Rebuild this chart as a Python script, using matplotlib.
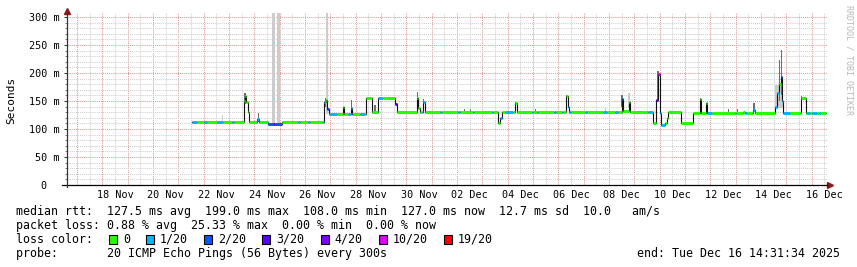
import numpy as np
import matplotlib
matplotlib.use("Agg")
import matplotlib.pyplot as plt
from matplotlib.patches import Rectangle

# x axis: days since 2025-11-16 00:00, graph spans 16 Nov 14:31 .. 16 Dec 14:31
t_start = 0.605
t_end = 30.605
data_end = 30.57

# median rtt (ms), step values starting at each time
med_t = [5.54, 7.59, 7.63, 7.68, 7.74, 7.80, 8.11, 8.17, 8.53, 9.08,
         10.75, 10.81, 10.87, 10.93, 11.50, 11.54, 11.82, 11.86, 12.41, 12.65,
         12.88, 13.55, 13.63, 14.41, 14.47, 14.53, 14.66, 14.72, 17.62, 17.70,
         17.78, 18.29, 18.35, 20.31, 20.37, 20.43, 22.50, 22.56, 22.77, 22.83,
         23.73, 23.86, 23.92, 24.00, 24.04, 24.21, 24.29, 24.33, 24.85, 25.31,
         25.60, 25.64, 25.83, 25.87, 27.29, 27.37, 27.69, 27.77, 28.56, 28.64,
         28.72, 28.79, 28.83, 28.87, 29.57, 29.78]
med_v = [112, 150, 158, 148, 131, 113, 118, 113, 108, 112,
         148, 152, 135, 127, 140, 127, 138, 127, 156, 130,
         156, 145, 131, 155, 138, 131, 148, 131, 110, 120,
         131, 146, 131, 158, 140, 131, 153, 132, 149, 131,
         110, 152, 199, 128, 107, 110, 120, 131, 110, 128,
         153, 128, 146, 128, 131, 128, 133, 128, 140, 165,
         180, 193, 150, 128, 155, 128]

# lost pings (of 20), step values starting at each time
loss_t = [5.54, 5.74, 6.01, 6.13, 6.53, 6.76, 7.12, 7.18, 8.11, 8.17,
          8.54, 8.74, 8.82, 9.09, 9.72, 9.80, 10.12, 10.18, 10.71, 10.77,
          10.87, 10.93, 10.99, 11.27, 11.70, 11.90, 12.17, 12.37, 12.88, 13.08,
          13.55, 13.63, 14.62, 14.74, 15.33, 15.41, 16.04, 16.10, 16.63, 16.69,
          17.38, 17.44, 17.70, 17.78, 17.90, 18.21, 18.96, 19.00, 19.16, 19.20,
          19.83, 19.89, 20.15, 20.19, 20.37, 20.50, 21.05, 21.13, 21.77, 21.92,
          22.24, 22.36, 22.50, 22.56, 23.54, 23.74, 23.86, 23.92, 24.00, 24.21,
          25.87, 26.07, 26.98, 27.02, 27.37, 27.45, 27.69, 27.77, 28.56, 28.72,
          28.79, 28.83, 29.15, 29.82, 29.94, 30.02, 30.21, 30.29, 30.37]
loss_v = [1, 0, 1, 0, 1, 0, 1, 0, 1, 0,
          2, 3, 2, 0, 1, 0, 1, 0, 1, 0,
          2, 0, 1, 0, 1, 0, 1, 0, 1, 0,
          3, 0, 1, 0, 1, 0, 1, 0, 1, 0,
          1, 0, 1, 0, 1, 0, 1, 0, 1, 0,
          1, 0, 1, 0, 1, 0, 1, 0, 1, 0,
          1, 0, 2, 0, 1, 0, 3, 10, 1, 0,
          1, 0, 1, 0, 1, 0, 1, 0, 1, 0,
          2, 1, 0, 1, 0, 1, 0, 1, 0]

# smoke (spread of the 20 pings), dark and light
smoke_t0 = [7.61, 8.13, 10.77, 11.80, 12.73, 14.41, 14.66, 16.27, 16.51, 18.29,
            19.08, 20.31, 22.49, 23.90, 25.60, 25.83, 26.68, 27.05, 27.68, 28.70,
            28.77, 29.58]
smoke_t1 = [7.67, 8.19, 10.83, 11.86, 12.79, 14.47, 14.71, 16.32, 16.56, 18.34,
            19.13, 20.36, 22.55, 23.96, 25.65, 25.88, 26.73, 27.10, 27.76, 28.76,
            28.82, 29.63]
smoke_lo = [145, 113, 140, 130, 130, 150, 135, 131, 131, 135,
            131, 145, 140, 150, 140, 135, 128, 128, 130, 150,
            160, 150]
smoke_hi = [165, 128, 155, 152, 143, 166, 153, 136, 136, 149,
            136, 161, 161, 203, 155, 146, 136, 136, 146, 223,
            241, 158]

haze_t0 = [6.72, 8.70, 8.90, 10.83, 21.83, 22.76, 28.56]
haze_t1 = [6.77, 8.82, 9.01, 10.90, 21.88, 22.82, 28.87]
haze_lo = [112, 108, 108, 127, 131, 140, 137]
haze_hi = [125, 310, 310, 310, 138, 164, 178]

loss_steps = [0, 1, 2, 3, 4, 10, 19]
loss_labels = ["0", "1/20", "2/20", "3/20", "4/20", "10/20", "19/20"]
loss_colors = ["#26ff00", "#00b8ff", "#0059ff", "#5e00ff", "#7e00ff", "#dd00ff", "#ff0000"]

tick_days = [2.5, 4.5, 6.5, 8.5, 10.5, 12.5, 14.5, 16.5, 18.5, 20.5, 22.5, 24.5, 26.5, 28.5, 30.5]
tick_labels = ["18 Nov", "20 Nov", "22 Nov", "24 Nov", "26 Nov", "28 Nov", "30 Nov",
               "02 Dec", "04 Dec", "06 Dec", "08 Dec", "10 Dec", "12 Dec", "14 Dec", "16 Dec"]
y_ticks = [0, 50, 100, 150, 200, 250, 300]
y_labels = ["0  ", "50 m", "100 m", "150 m", "200 m", "250 m", "300 m"]

MONO = "DejaVu Sans Mono"
W, H = 857, 267

fig = plt.figure(figsize=(W / 100, H / 100), dpi=100)
fig.patch.set_facecolor("white")
ax = fig.add_axes([67 / W, 1 - 185 / H, 760 / W, 172 / H])
ax.set_xlim(t_start, t_end)
ax.set_ylim(0, 307)
for s in ax.spines.values():
    s.set_visible(False)

# grid
dots = (0, (1, 1))
for d in np.arange(1, 31, 0.5):
    major = float(d).is_integer()
    ax.axvline(d, color="#e59a9a" if major else "#cfcfcf", lw=0.75, ls=dots, zorder=0)
for v in range(10, 301, 10):
    ax.axhline(v, color="#e59a9a" if v % 50 == 0 else "#cfcfcf", lw=0.75, ls=dots, zorder=0)

# smoke
ax.bar(haze_t0, np.subtract(haze_hi, haze_lo), width=np.subtract(haze_t1, haze_t0),
       bottom=haze_lo, align="edge", color="#cccccc", lw=0, zorder=1)
ax.bar(smoke_t0, np.subtract(smoke_hi, smoke_lo), width=np.subtract(smoke_t1, smoke_t0),
       bottom=smoke_lo, align="edge", color="#6e6e6e", lw=0, zorder=1.5)

# median line, black steps then loss-coloured flats
ax.step(med_t + [data_end], med_v + [med_v[-1]], where="post", color="#111111", lw=0.8, zorder=2)


def loss_color(n):
    idx = np.searchsorted(loss_steps, n, side="right") - 1
    return loss_colors[idx]


edges = sorted(set(med_t) | set(loss_t) | {data_end})
for a, b in zip(edges[:-1], edges[1:]):
    v = med_v[np.searchsorted(med_t, a, side="right") - 1]
    n = loss_v[np.searchsorted(loss_t, a, side="right") - 1]
    ax.hlines(v, a, b, colors=loss_color(n), lw=2.2, zorder=3, capstyle="butt")

# axes lines and arrows
ax.plot([-0.007, 1.0], [0, 0], transform=ax.transAxes, color="black", lw=0.9, clip_on=False, zorder=4)
ax.plot([0, 0], [-0.012, 1.0], transform=ax.transAxes, color="#333333", lw=0.9, clip_on=False, zorder=4)
ax.plot(0, 1.012, marker="^", ms=4, color="#8b1a1a", transform=ax.transAxes, clip_on=False)
ax.plot(1.004, 0, marker=">", ms=4, color="#8b1a1a", transform=ax.transAxes, clip_on=False)

ax.set_xticks(tick_days)
ax.set_xticklabels(tick_labels, family=MONO, fontsize=7.3)
ax.tick_params(axis="x", length=0, pad=3.5)
ax.set_yticks(y_ticks)
ax.set_yticklabels(y_labels, family=MONO, fontsize=7.3)
ax.set_yticks(range(10, 301, 10), minor=True)
ax.tick_params(axis="y", which="major", length=2.5, width=0.7, pad=3, color="#333333")
ax.tick_params(axis="y", which="minor", length=1.5, width=0.6, color="#666666")

fig.text(11 / W, 1 - 100 / H, "Seconds", rotation=90, family=MONO, fontsize=8,
         ha="center", va="center")
fig.text(849 / W, 1 - 60 / H, "RRDTOOL / TOBI OETIKER", rotation=270, family=MONO,
         fontsize=6, color="#b8b8b8", ha="center", va="center")

# legend
fs = 8.4
rows = [
    "median rtt:  127.5 ms avg  199.0 ms max  108.0 ms min  127.0 ms now  12.7 ms sd  10.0   am/s",
    "packet loss: 0.88 % avg  25.33 % max  0.00 % min  0.00 % now",
    "loss color:",
    "probe:       20 ICMP Echo Pings (56 Bytes) every 300s",
]
row_y = [211.5, 225, 239.3, 253.3]
for txt, y in zip(rows, row_y):
    fig.text(16 / W, 1 - y / H, txt, family=MONO, fontsize=fs, ha="left", va="center")
fig.text(840 / W, 1 - 253.3 / H, "end: Tue Dec 16 14:31:34 2025", family=MONO,
         fontsize=fs, ha="right", va="center")

cw = 7.05
x = 109
for lab, col in zip(loss_labels, loss_colors):
    fig.add_artist(Rectangle((x / W, 1 - 244 / H), 8 / W, 9 / H, transform=fig.transFigure,
                             facecolor=col, edgecolor="black", lw=0.8))
    fig.text((x + 14) / W, 1 - 239.3 / H, lab, family=MONO, fontsize=fs, ha="left", va="center")
    x += 14 + len(lab) * cw + 16

fig.savefig("out.png", dpi=100, facecolor="white")
